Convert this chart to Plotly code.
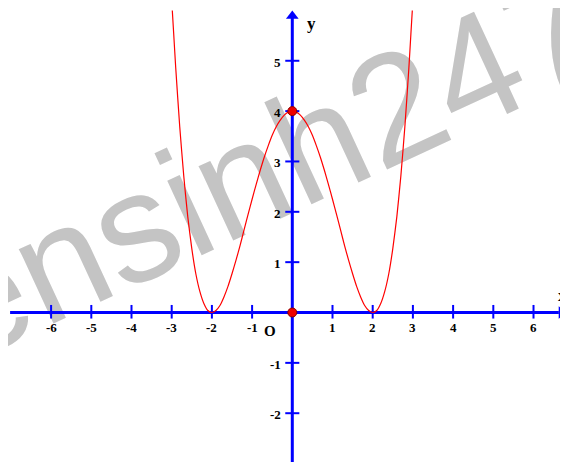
import plotly.graph_objects as go

# Curve (red graph)
curve_x = [-2.985, -2.95, -2.9, -2.8, -2.7, -2.6, -2.5, -2.4, -2.3, -2.2, -2.1, -2.0,
           -1.9, -1.8, -1.7, -1.6, -1.5, -1.4, -1.3, -1.2, -1.1, -1.0,
           -0.9, -0.8, -0.7, -0.6, -0.5, -0.4, -0.3, -0.2, -0.1, 0.0,
           0.1, 0.2, 0.3, 0.4, 0.5, 0.6, 0.7, 0.8, 0.9, 1.0,
           1.1, 1.2, 1.3, 1.4, 1.5, 1.6, 1.7, 1.8, 1.9, 2.0,
           2.1, 2.2, 2.3, 2.4, 2.5, 2.6, 2.7, 2.8, 2.9, 2.95, 2.985]
curve_y = [6.00, 5.53, 4.86, 3.69, 2.71, 1.90, 1.27, 0.77, 0.42, 0.18, 0.04, 0.00,
           0.04, 0.14, 0.31, 0.52, 0.77, 1.04, 1.33, 1.64, 1.95, 2.25,
           2.54, 2.82, 3.08, 3.31, 3.52, 3.69, 3.82, 3.92, 3.98, 4.00,
           3.98, 3.92, 3.82, 3.69, 3.52, 3.31, 3.08, 2.82, 2.54, 2.25,
           1.95, 1.64, 1.33, 1.04, 0.77, 0.52, 0.31, 0.14, 0.04, 0.00,
           0.04, 0.18, 0.42, 0.77, 1.27, 1.90, 2.71, 3.69, 4.86, 5.53, 6.00]

# Highlighted points
point_x = [0, 0]
point_y = [4, 0]

# Tick labels
x_ticks = [-6, -5, -4, -3, -2, -1, 1, 2, 3, 4, 5, 6]
x_tick_labels = ["-6", "-5", "-4", "-3", "-2", "-1", "1", "2", "3", "4", "5", "6"]
y_ticks = [-2, -1, 1, 2, 3, 4, 5]
y_tick_labels = ["-2", "-1", "1", "2", "3", "4", "5"]

# figure sits 8px inside the page (body margin); size and ranges account for it
FIG_W, FIG_H = 560, 454
X_MIN, X_MAX = -7.072, 6.858
Y_MIN, Y_MAX = -2.969, 6.048
AX_X0, AX_X_TIP = -7.02, 6.83
AX_Y_TIP = 6.0
BLUE = "#0000ff"
SERIF = "Liberation Serif, Times New Roman, serif"

fig = go.Figure()

# axes lines
fig.add_trace(go.Scatter(x=[AX_X0, AX_X_TIP - 0.2], y=[0, 0], mode="lines",
                         line=dict(color=BLUE, width=3), hoverinfo="skip"))
fig.add_trace(go.Scatter(x=[0, 0], y=[Y_MIN - 0.1, AX_Y_TIP - 0.15], mode="lines",
                         line=dict(color=BLUE, width=3), hoverinfo="skip"))
# arrow heads
fig.add_trace(go.Scatter(x=[AX_X_TIP - 0.135], y=[0], mode="markers",
                         marker=dict(symbol="triangle-right", size=11, color=BLUE),
                         hoverinfo="skip"))
fig.add_trace(go.Scatter(x=[0], y=[AX_Y_TIP - 0.11], mode="markers",
                         marker=dict(symbol="triangle-up", size=11, color=BLUE),
                         hoverinfo="skip"))

# tick marks
tx, ty = [], []
for v in x_ticks:
    tx += [v, v, None]
    ty += [-0.12, 0.15, None]
for v in y_ticks:
    tx += [-0.175, 0.175, None]
    ty += [v, v, None]
fig.add_trace(go.Scatter(x=tx, y=ty, mode="lines", line=dict(color=BLUE, width=2),
                         hoverinfo="skip"))

# curve
fig.add_trace(go.Scatter(x=curve_x, y=curve_y, mode="lines",
                         line=dict(color="#ff0000", width=1.2, shape="spline", smoothing=0.6),
                         hoverinfo="skip"))

# points
fig.add_trace(go.Scatter(x=point_x, y=point_y, mode="markers",
                         marker=dict(size=9, color="#ee0000", line=dict(color="#880000", width=1)),
                         hoverinfo="skip"))

annotations = []
for v, t in zip(x_ticks, x_tick_labels):
    annotations.append(dict(x=v, y=-0.29, text="<b>%s</b>" % t, showarrow=False,
                            xanchor="center", yanchor="middle",
                            font=dict(family=SERIF, size=13, color="black")))
for v, t in zip(y_ticks, y_tick_labels):
    annotations.append(dict(x=-0.22, y=v - 0.03, text="<b>%s</b>" % t, showarrow=False,
                            xanchor="right", yanchor="middle",
                            font=dict(family=SERIF, size=13, color="black")))
annotations.append(dict(x=-0.555, y=-0.36, text="<b>O</b>", showarrow=False,
                        xanchor="center", yanchor="middle",
                        font=dict(family=SERIF, size=15, color="black")))
annotations.append(dict(x=0.47, y=5.75, text="<b>y</b>", showarrow=False,
                        xanchor="center", yanchor="middle",
                        font=dict(family=SERIF, size=17, color="black")))
annotations.append(dict(x=6.72, y=0.33, text="<b>x</b>", showarrow=False,
                        xanchor="center", yanchor="middle",
                        font=dict(family=SERIF, size=17, color="black")))

# watermark (behind everything)
cx, cy = 312 / FIG_W, 1 - 117 / FIG_H
fig.add_shape(type="rect", xref="paper", yref="paper",
              x0=cx - 0.005, x1=cx + 0.005, y0=cy - 0.005, y1=cy + 0.005,
              line=dict(width=0), fillcolor="rgba(0,0,0,0)", layer="below",
              label=dict(text="tuyensinh247.com", textangle=-24.8, textposition="middle center",
                         font=dict(family="Liberation Sans, Arial, sans-serif", size=155,
                                   color="#c4c4c4")))

fig.update_layout(
    width=FIG_W, height=FIG_H,
    margin=dict(l=0, r=0, t=0, b=0),
    paper_bgcolor="white", plot_bgcolor="white",
    showlegend=False,
    xaxis=dict(range=[X_MIN, X_MAX], visible=False, fixedrange=True),
    yaxis=dict(range=[Y_MIN, Y_MAX], visible=False, fixedrange=True),
    annotations=annotations,
)

fig.write_html("out.html")
